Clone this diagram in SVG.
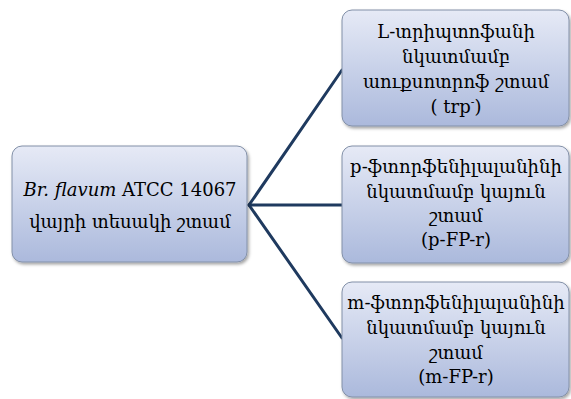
<svg xmlns="http://www.w3.org/2000/svg" width="571" height="399" viewBox="0 0 571 399">
<defs>
<linearGradient id="g" x1="0" y1="0" x2="0" y2="1">
<stop offset="0" stop-color="#e6eaf6"/>
<stop offset="1" stop-color="#abb9dc"/>
</linearGradient>
<filter id="sh" x="-10%" y="-10%" width="130%" height="130%">
<feDropShadow dx="1.5" dy="2" stdDeviation="1.5" flood-color="#000" flood-opacity="0.35"/>
</filter>
</defs>
<style>
.box{fill:url(#g);stroke:#8290a8;stroke-width:1;filter:url(#sh)}
.t{font-family:"DejaVu Serif",serif;font-size:18px;fill:#000;text-anchor:middle}
.c{stroke:#1f3a5f;stroke-width:3;fill:none;stroke-linecap:round}
</style>
<rect width="571" height="399" fill="#fff"/>
<g id="connectors">
<line class="c" x1="249" y1="205" x2="342" y2="70"/>
<line class="c" x1="249" y1="205" x2="342" y2="205"/>
<line class="c" x1="249" y1="205" x2="342" y2="338"/>
</g>
<g id="root">
<rect class="box" x="12" y="146" width="235" height="116" rx="10"/>
<text class="t" x="130" y="196"><tspan font-style="italic">Br. flavum</tspan> ATCC 14067</text>
<text class="t" x="130" y="228">վայրի տեսակի շտամ</text>
</g>
<g id="n1">
<rect class="box" x="342" y="10" width="227" height="116" rx="10"/>
<text class="t" x="456" y="38">L-տրիպտոֆանի</text>
<text class="t" x="456" y="63">նկատմամբ</text>
<text class="t" x="456" y="88">աուքսոտրոֆ շտամ</text>
<text class="t" x="456" y="113">( trp<tspan font-size="11" dy="-7">-</tspan><tspan dy="7">)</tspan></text>
</g>
<g id="n2">
<rect class="box" x="342" y="146" width="227" height="117" rx="10"/>
<text class="t" x="456" y="173">p-ֆտորֆենիլալանինի</text>
<text class="t" x="456" y="198">նկատմամբ կայուն</text>
<text class="t" x="456" y="222">շտամ</text>
<text class="t" x="456" y="246">(p-FP-r)</text>
</g>
<g id="n3">
<rect class="box" x="342" y="282" width="227" height="115" rx="10"/>
<text class="t" x="456" y="309">m-ֆտորֆենիլալանինի</text>
<text class="t" x="456" y="334">նկատմամբ կայուն</text>
<text class="t" x="456" y="359">շտամ</text>
<text class="t" x="456" y="383">(m-FP-r)</text>
</g>
</svg>
